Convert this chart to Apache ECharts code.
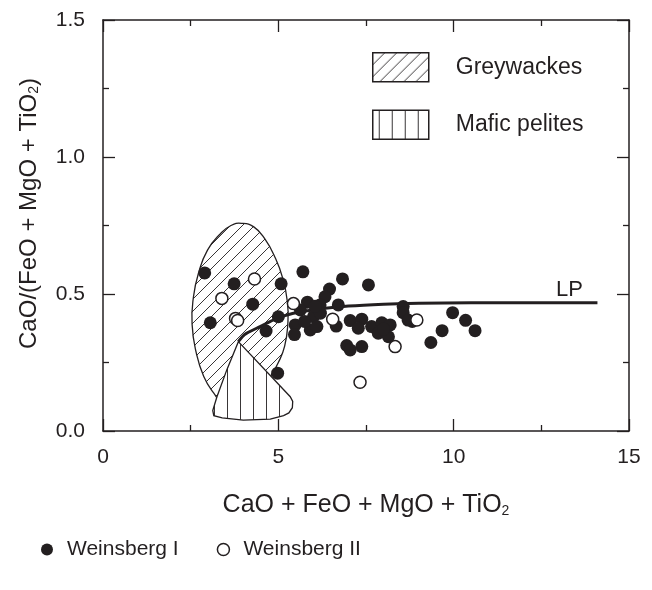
<!DOCTYPE html>
<html>
<head>
<meta charset="utf-8">
<script src="https://cdn.jsdelivr.net/npm/echarts@6/dist/echarts.min.js"></script>
<style>html,body{margin:0;padding:0;background:#fff}#c{width:652px;height:590px}</style>
</head>
<body>
<div id="c"></div>
<script>
// ---------- data ----------
const xTickLabels = ['0', '5', '10', '15'];
const yTickLabels = ['0.0', '0.5', '1.0', '1.5'];

const weinsbergI = [
  [2.90,0.577],[3.74,0.537],[3.06,0.395],[4.27,0.463],[5.08,0.537],[5.70,0.581],[5.00,0.417],[4.65,0.365],[4.98,0.211],
  [6.83,0.555],[7.57,0.533],[6.46,0.518],[6.33,0.490],[5.83,0.470],[6.71,0.460],[6.19,0.460],[5.48,0.387],[5.46,0.352],
  [6.00,0.417],[5.91,0.369],[6.10,0.381],[6.65,0.383],[7.05,0.403],[7.38,0.408],[7.28,0.375],[6.95,0.312],[7.05,0.296],
  [7.38,0.308],[7.66,0.381],[7.95,0.395],[8.19,0.387],[7.85,0.357],[8.14,0.344],[8.56,0.454],[8.56,0.432],[8.82,0.400],
  [9.35,0.323],[9.67,0.366],[9.97,0.432],[10.34,0.404],[10.61,0.366],[5.63,0.442],[6.20,0.430],[5.75,0.400],[6.05,0.455],
  [8.70,0.405],[8.00,0.372]
];
const weinsbergII = [
  [4.32,0.555],[3.39,0.484],[3.78,0.411],[3.84,0.403],[5.43,0.465],[6.55,0.408],[7.33,0.178],[8.33,0.308],[8.95,0.405]
];
const greywackeOutline = [
  [3.95,0.758],[4.30,0.745],[4.62,0.700],[4.90,0.635],[5.12,0.560],[5.26,0.470],[5.27,0.390],[5.18,0.310],
  [5.00,0.250],[4.77,0.198],[4.45,0.140],[4.00,0.090],[3.50,0.090],[3.15,0.140],[2.87,0.200],[2.66,0.285],
  [2.54,0.390],[2.58,0.490],[2.72,0.575],[2.98,0.660],[3.35,0.720],[3.65,0.750]
];
const maficOutline = [
  [3.86,0.326],[5.34,0.125],[5.41,0.108],[5.40,0.085],[5.30,0.066],[5.15,0.056],[4.77,0.043],[4.00,0.040],
  [3.40,0.048],[3.16,0.056],[3.13,0.075],[3.25,0.125],[3.53,0.223]
];
const lpCurve = [
  [3.86,0.326],[3.98,0.345],[4.10,0.357],[4.48,0.381],[4.96,0.411],[5.43,0.430],[6.00,0.442],[7.00,0.456],
  [8.00,0.463],[9.00,0.466],[10.50,0.468],[13.30,0.468],[14.10,0.468]
];
const lpLabelAt = [13.30, 0.468];

// ---------- styles ----------
const INK = '#231f20';
const FONT = 'Liberation Sans, Arial, Helvetica, sans-serif';

function makePattern(kind, size) {
  const c = document.createElement('canvas');
  c.width = size; c.height = size;
  const g = c.getContext('2d');
  g.fillStyle = '#ffffff';
  g.fillRect(0, 0, size, size);
  g.strokeStyle = INK;
  g.lineWidth = 0.9;
  g.beginPath();
  if (kind === 'diag') {
    g.moveTo(0, size); g.lineTo(size, 0);
    g.moveTo(-size / 2, size / 2); g.lineTo(size / 2, -size / 2);
    g.moveTo(size / 2, size * 1.5); g.lineTo(size * 1.5, size / 2);
  } else {
    g.moveTo(size / 2, 0); g.lineTo(size / 2, size);
  }
  g.stroke();
  return { image: c, repeat: 'repeat' };
}
const diagPattern = makePattern('diag', 12);
const vertPattern = makePattern('vert', 13);

function polygonSeries(name, outline, fill, smooth, z) {
  return {
    name: name,
    type: 'custom',
    z: z,
    silent: true,
    itemStyle: { color: '#fff', borderColor: INK, borderWidth: 1.3 },
    data: outline,
    renderItem: function (params, api) {
      if (params.dataIndex !== 0) return null;
      const pts = outline.map(p => api.coord(p));
      return {
        type: 'polygon',
        shape: { points: pts, smooth: smooth },
        style: { fill: fill, stroke: INK, lineWidth: 1.3 }
      };
    }
  };
}

const chart = echarts.init(document.getElementById('c'), null, { renderer: 'canvas' });

function xAxisDef(pos, showLabel) {
  return {
    type: 'value', position: pos, min: 0, max: 15, interval: 5,
    axisLine: { show: true, onZero: false, lineStyle: { color: INK, width: 1.5 } },
    axisTick: { show: true, inside: true, length: 12, lineStyle: { color: INK, width: 1.3 } },
    minorTick: { show: true, splitNumber: 2, length: 6, lineStyle: { color: INK, width: 1.3 } },
    splitLine: { show: false },
    axisLabel: {
      show: showLabel, margin: 16, color: INK, fontSize: 21, fontFamily: FONT,
      formatter: v => xTickLabels[Math.round(v / 5)]
    }
  };
}
function yAxisDef(pos, showLabel) {
  return {
    type: 'value', position: pos, min: 0, max: 1.5, interval: 0.5,
    axisLine: { show: true, onZero: false, lineStyle: { color: INK, width: 1.5 } },
    axisTick: { show: true, inside: true, length: 12, lineStyle: { color: INK, width: 1.3 } },
    minorTick: { show: true, splitNumber: 2, length: 6, lineStyle: { color: INK, width: 1.3 } },
    splitLine: { show: false },
    axisLabel: {
      show: showLabel, margin: 18, color: INK, fontSize: 21, fontFamily: FONT,
      formatter: v => yTickLabels[Math.round(v / 0.5)]
    }
  };
}

const xb = xAxisDef('bottom', true);
xb.name = '{a|CaO + FeO + MgO + TiO}{s|2}';
xb.nameLocation = 'middle';
xb.nameGap = 62;
xb.nameTextStyle = {
  rich: {
    a: { fontSize: 25, fontFamily: FONT, color: INK },
    s: { fontSize: 14, lineHeight: 14, fontFamily: FONT, color: INK, padding: [11, 0, 0, 0] }
  }
};
const yl = yAxisDef('left', true);
yl.name = '{a|CaO/(FeO + MgO + TiO}{s|2}{a|)}';
yl.nameLocation = 'middle';
yl.nameRotate = 90;
yl.nameGap = 62;
yl.nameTextStyle = {
  padding: [0, 0, 0, 24],
  rich: {
    a: { fontSize: 24, fontFamily: FONT, color: INK },
    s: { fontSize: 14, lineHeight: 14, fontFamily: FONT, color: INK, padding: [10, 0, 0, 0] }
  }
};

const option = {
  backgroundColor: '#fff',
  animation: false,
  grid: { left: 103, right: 23, top: 20, bottom: 159, outerBoundsMode: 'none', containLabel: false },
  xAxis: [xb, xAxisDef('top', false)],
  yAxis: [yl, yAxisDef('right', false)],
  legend: [
    {
      orient: 'vertical', left: 372, top: 52, padding: 0, itemGap: 27, itemWidth: 56, itemHeight: 29,
      selectedMode: false,
      textStyle: { fontSize: 23, fontFamily: FONT, color: INK, padding: [0, 0, 0, 22] },
      data: [
        { name: 'Greywackes', icon: 'rect', itemStyle: { color: diagPattern, borderColor: INK, borderWidth: 1.5 } },
        { name: 'Mafic pelites', icon: 'rect', itemStyle: { color: vertPattern, borderColor: INK, borderWidth: 1.5 } }
      ]
    },
    {
      orient: 'horizontal', left: 36, top: 534, itemGap: 38, itemWidth: 30, itemHeight: 12,
      selectedMode: false,
      textStyle: { fontSize: 21, fontFamily: FONT, color: INK },
      data: [
        { name: 'Weinsberg I', icon: 'circle', itemStyle: { color: INK, borderWidth: 0 } },
        { name: 'Weinsberg II', icon: 'circle', itemStyle: { color: '#fff', borderColor: INK, borderWidth: 1.5 } }
      ]
    }
  ],
  series: [
    polygonSeries('Greywackes', greywackeOutline, diagPattern, 0.5, 1),
    polygonSeries('Mafic pelites', maficOutline, vertPattern, 0, 2),
    {
      name: 'LP', type: 'line', z: 3, smooth: 0.3, showSymbol: false, symbol: 'none', silent: true,
      lineStyle: { color: INK, width: 3 },
      data: lpCurve,
      markPoint: {
        silent: true,
        symbol: 'circle', symbolSize: 0,
        itemStyle: { color: INK, opacity: 1 },
        label: { show: true, position: 'top', distance: 2, formatter: 'LP', fontSize: 22, fontFamily: FONT, color: INK, opacity: 1 },
        data: [{ coord: lpLabelAt }]
      }
    },
    {
      name: 'Weinsberg I', type: 'scatter', z: 5, symbol: 'circle', symbolSize: 13,
      itemStyle: { color: INK, opacity: 1 },
      data: weinsbergI
    },
    {
      name: 'Weinsberg II', type: 'scatter', z: 6, symbol: 'circle', symbolSize: 12,
      itemStyle: { color: '#fff', borderColor: INK, borderWidth: 1.5, opacity: 1 },
      data: weinsbergII
    }
  ]
};
chart.setOption(option);
</script>
</body>
</html>
